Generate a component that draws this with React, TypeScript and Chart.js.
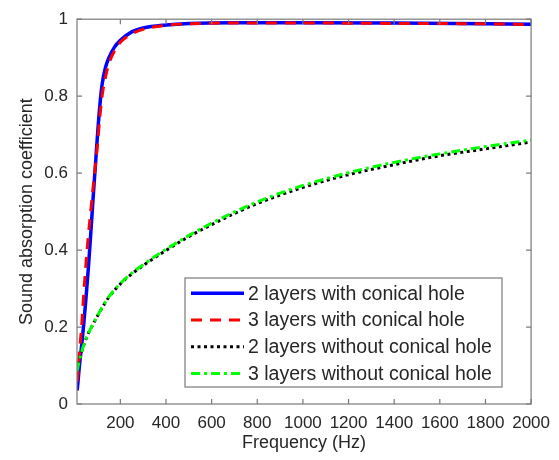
import React, { useEffect, useRef } from 'react';
import { Chart, registerables } from 'chart.js';

Chart.register(...registerables);

// ---- data ----
const freqWith = [10, 12, 20, 30, 40, 50, 60, 70, 80, 90, 100, 110, 120, 135, 150, 175, 200, 250, 300, 400, 500, 700, 1000, 1400, 1800, 2000];
const alpha2With = [0.035, 0.043, 0.095, 0.15, 0.21, 0.28, 0.355, 0.44, 0.53, 0.615, 0.7, 0.775, 0.83, 0.875, 0.9, 0.928, 0.945, 0.967, 0.977, 0.985, 0.989, 0.991, 0.991, 0.99, 0.988, 0.987];
const alpha3With = [0.058, 0.065, 0.13, 0.2, 0.29, 0.37, 0.44, 0.5, 0.56, 0.615, 0.675, 0.745, 0.8, 0.85, 0.885, 0.918, 0.94, 0.962, 0.974, 0.984, 0.988, 0.99, 0.99, 0.989, 0.988, 0.986];

const freqWithout = [10, 20, 30, 40, 50, 60, 80, 100, 125, 150, 200, 250, 300, 350, 400, 500, 600, 700, 800, 900, 1000, 1200, 1400, 1600, 1800, 2000];
const alpha2Without = [0.085, 0.112, 0.135, 0.154, 0.17, 0.184, 0.207, 0.229, 0.255, 0.278, 0.312, 0.338, 0.36, 0.38, 0.399, 0.435, 0.466, 0.495, 0.521, 0.543, 0.563, 0.596, 0.622, 0.645, 0.663, 0.681];
const alpha3Without = [0.085, 0.112, 0.135, 0.154, 0.17, 0.184, 0.208, 0.23, 0.256, 0.279, 0.313, 0.34, 0.362, 0.383, 0.402, 0.438, 0.47, 0.499, 0.525, 0.548, 0.568, 0.601, 0.628, 0.65, 0.669, 0.686];

const seriesLabels = [
  '2 layers with conical hole',
  '3 layers with conical hole',
  '2 layers without conical hole',
  '3 layers without conical hole',
];

const xTickValues = [200, 400, 600, 800, 1000, 1200, 1400, 1600, 1800, 2000];
const yTickValues = [0, 0.2, 0.4, 0.6, 0.8, 1];
const yTickLabels = ['0', '0.2', '0.4', '0.6', '0.8', '1'];

const FONT = 'Arial, "Liberation Sans", Helvetica, sans-serif';
const TEXT = '#262626';
const AXIS = '#7a7a7a';

const toPts = (xs: number[], ys: number[]) => xs.map((x, i) => ({ x, y: ys[i] }));

const framePlugin = {
  id: 'frame',
  afterDatasetsDraw(chart: any) {
    const { ctx, chartArea: ca, scales } = chart;
    ctx.save();
    ctx.strokeStyle = AXIS;
    ctx.lineWidth = 1.2;
    ctx.setLineDash([]);
    ctx.strokeRect(ca.left, ca.top, ca.right - ca.left, ca.bottom - ca.top);
    const tl = 5;
    ctx.beginPath();
    xTickValues.forEach((v) => {
      const px = scales.x.getPixelForValue(v);
      ctx.moveTo(px, ca.bottom);
      ctx.lineTo(px, ca.bottom - tl);
      ctx.moveTo(px, ca.top);
      ctx.lineTo(px, ca.top + tl);
    });
    yTickValues.forEach((v) => {
      const py = scales.y.getPixelForValue(v);
      ctx.moveTo(ca.left, py);
      ctx.lineTo(ca.left + tl, py);
      ctx.moveTo(ca.right, py);
      ctx.lineTo(ca.right - tl, py);
    });
    ctx.stroke();
    ctx.restore();
  },
};

const legendPlugin = {
  id: 'boxLegend',
  afterDraw(chart: any) {
    const { ctx } = chart;
    const bx = 185, by = 278, bw = 317, bh = 109;
    ctx.save();
    ctx.fillStyle = '#ffffff';
    ctx.fillRect(bx, by, bw, bh);
    ctx.strokeStyle = AXIS;
    ctx.lineWidth = 1.2;
    ctx.setLineDash([]);
    ctx.strokeRect(bx, by, bw, bh);
    chart.data.datasets.forEach((ds: any, i: number) => {
      const y = by + 15.3 + i * 26.7;
      ctx.beginPath();
      ctx.strokeStyle = ds.borderColor;
      ctx.lineWidth = ds.borderWidth;
      ctx.setLineDash(ds.borderDash || []);
      ctx.moveTo(bx + 6, y);
      ctx.lineTo(bx + 59, y);
      ctx.stroke();
      ctx.setLineDash([]);
      ctx.fillStyle = TEXT;
      ctx.font = `19.5px ${FONT}`;
      ctx.textBaseline = 'middle';
      ctx.textAlign = 'left';
      ctx.fillText(ds.label, bx + 63, y + 1);
    });
    ctx.restore();
  },
};

export default function App() {
  const ref = useRef<HTMLCanvasElement | null>(null);

  useEffect(() => {
    document.body.style.margin = '0';
    const canvas = ref.current;
    if (!canvas) return;
    const chart = new Chart(canvas, {
      type: 'line',
      data: {
        datasets: [
          {
            label: seriesLabels[0],
            data: toPts(freqWith, alpha2With),
            borderColor: '#0000ff',
            borderWidth: 3.5,
            borderDash: [],
            order: 4,
          },
          {
            label: seriesLabels[1],
            data: toPts(freqWith, alpha3With),
            borderColor: '#ff0000',
            borderWidth: 3,
            borderDash: [11, 8],
            order: 3,
          },
          {
            label: seriesLabels[2],
            data: toPts(freqWithout, alpha2Without),
            borderColor: '#000000',
            borderWidth: 3,
            borderDash: [3, 3.5],
            order: 2,
          },
          {
            label: seriesLabels[3],
            data: toPts(freqWithout, alpha3Without),
            borderColor: '#00ff00',
            borderWidth: 3,
            borderDash: [9, 4, 3, 4],
            order: 1,
          },
        ].map((d) => ({
          ...d,
          pointRadius: 0,
          fill: false,
          cubicInterpolationMode: 'monotone' as const,
          borderCapStyle: 'butt' as const,
        })),
      },
      options: {
        responsive: false,
        animation: false,
        devicePixelRatio: 1,
        layout: { padding: { left: 0, top: 15, right: 23, bottom: 0 } },
        plugins: {
          legend: { display: false },
          tooltip: { enabled: false },
        },
        scales: {
          x: {
            type: 'linear',
            min: 10,
            max: 2000,
            afterBuildTicks: (s: any) => {
              s.ticks = xTickValues.map((v) => ({ value: v }));
            },
            afterFit: (s: any) => {
              s.height = 56;
            },
            grid: { display: false, drawTicks: false },
            border: { display: false },
            ticks: {
              autoSkip: false,
              maxRotation: 0,
              padding: 9,
              color: TEXT,
              font: { family: FONT, size: 17 },
              callback: (v: any) => String(v),
            },
            title: {
              display: true,
              text: 'Frequency (Hz)',
              color: TEXT,
              font: { family: FONT, size: 18 },
              padding: { top: 0, bottom: 6 },
            },
          },
          y: {
            type: 'linear',
            min: 0,
            max: 1,
            afterBuildTicks: (s: any) => {
              s.ticks = yTickValues.map((v) => ({ value: v }));
            },
            afterFit: (s: any) => {
              s.width = 77;
            },
            grid: { display: false, drawTicks: false },
            border: { display: false },
            ticks: {
              autoSkip: false,
              padding: 9,
              color: TEXT,
              font: { family: FONT, size: 17 },
              callback: (v: any) => {
                const i = yTickValues.indexOf(Number(v));
                return i >= 0 ? yTickLabels[i] : '';
              },
            },
            title: {
              display: true,
              text: 'Sound absorption coefficient',
              color: TEXT,
              font: { family: FONT, size: 18 },
              padding: { top: 16, bottom: 0 },
            },
          },
        },
      },
      plugins: [framePlugin, legendPlugin],
    });
    return () => chart.destroy();
  }, []);

  return (
    <div style={{ width: 559, height: 460 }}>
      <canvas ref={ref} width={559} height={460} style={{ width: 559, height: 460, display: 'block' }} />
    </div>
  );
}
